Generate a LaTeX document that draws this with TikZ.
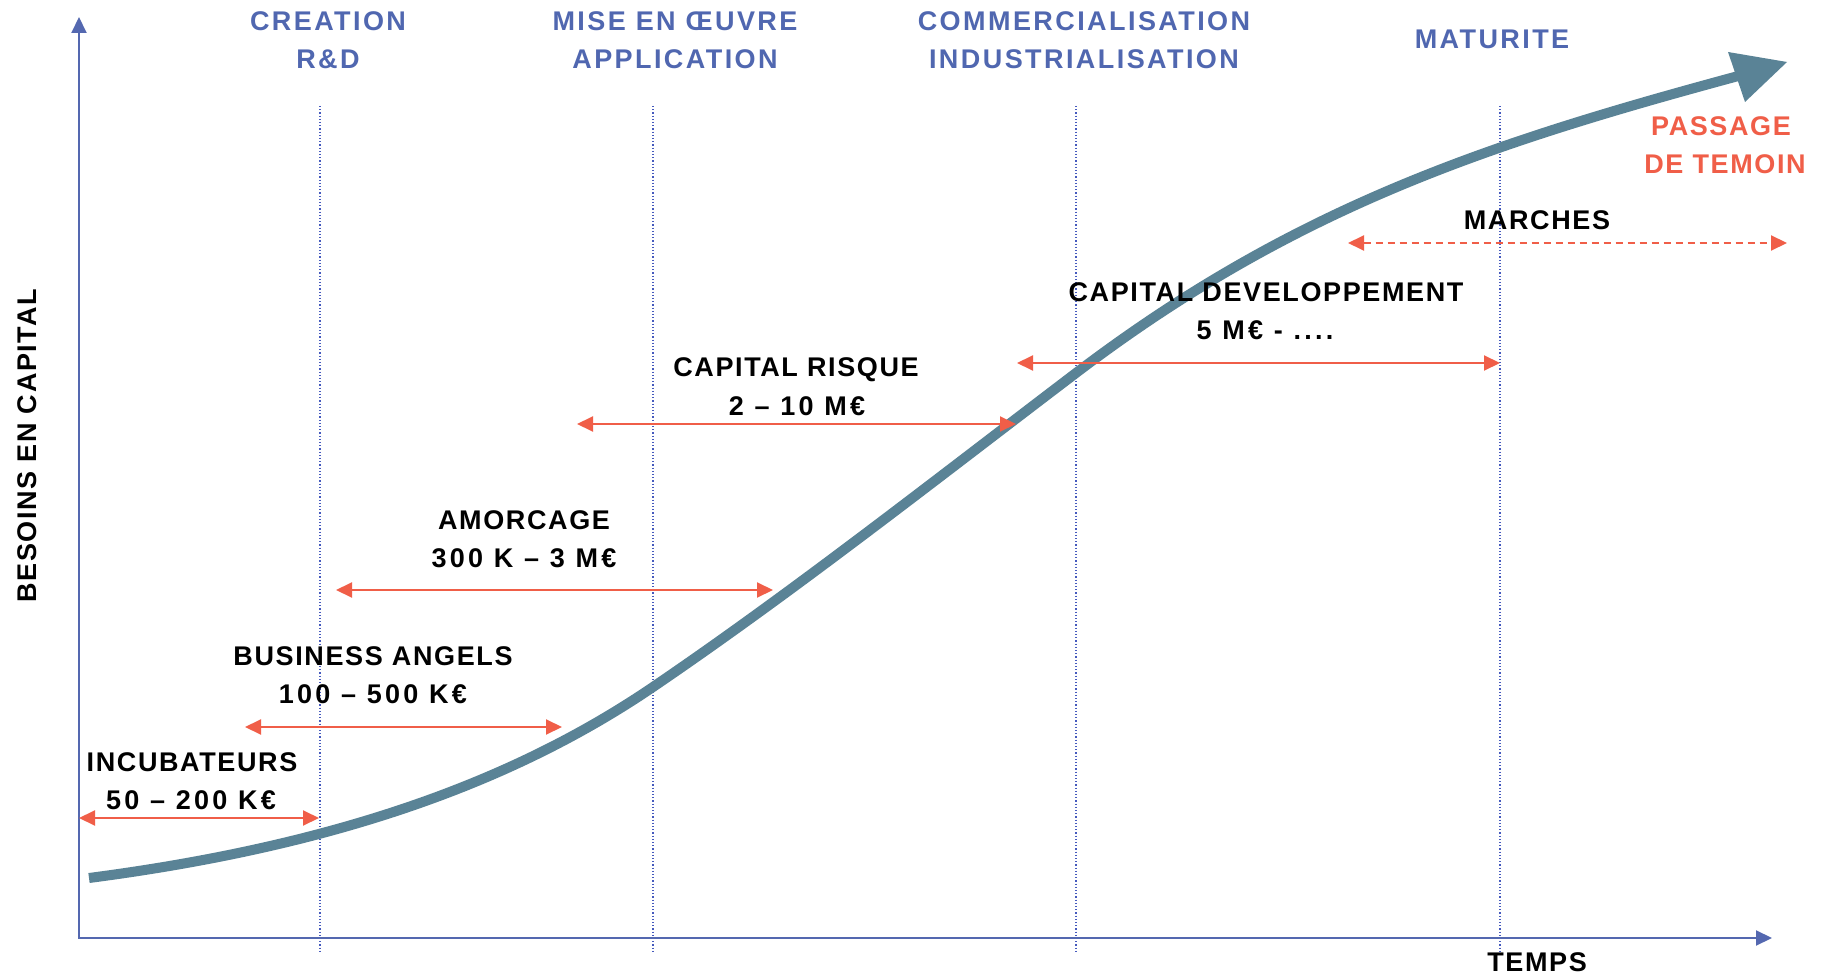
\documentclass[tikz,border=0pt]{standalone}
\usepackage{fontspec}
\setmainfont{Liberation Sans}[LetterSpace=6]
\newfontfamily\headfont{Liberation Sans}[LetterSpace=9]
\newfontfamily\numfont{Liberation Sans}[LetterSpace=12]
\usetikzlibrary{arrows.meta}
\definecolor{hblue}{RGB}{80,103,176}
\definecolor{axblue}{RGB}{84,104,176}
\definecolor{dotblue}{RGB}{70,90,190}
\definecolor{orng}{RGB}{240,94,72}
\definecolor{curveC}{RGB}{90,131,150}
\begin{document}
\begin{tikzpicture}[x=1pt,y=-1pt,
  lbl/.style={anchor=base, inner sep=0pt, font=\fontsize{27}{32}\selectfont\bfseries},
  head/.style={lbl, text=hblue, font=\fontsize{27}{32}\headfont\bfseries},
  pass/.style={lbl, text=orng},
  blk/.style={lbl, text=black},
  num/.style={lbl, text=black, font=\fontsize{27}{32}\numfont\bfseries},
  axisline/.style={draw=axblue, line width=2pt, {Triangle[length=16pt,width=15pt]}-{Triangle[length=16pt,width=15pt]}},
  guide/.style={draw=dotblue, line width=1.2pt, dash pattern=on 1.2pt off 2pt},
  span/.style={draw=orng, line width=2pt, {Triangle[length=16pt,width=15pt]}-{Triangle[length=16pt,width=15pt]}},
  spandash/.style={span, dash pattern=on 7pt off 5pt},
  growth/.style={draw=curveC, line width=10pt},
]
\fill[white] (0,0) rectangle (1829,973);
\useasboundingbox (0,0) rectangle (1829,973);

% guides
\foreach \gx/\gn in {320/g1,653/g2,1076/g3,1500/g4}{
  \coordinate (\gn top) at (\gx,106);
  \coordinate (\gn bot) at (\gx,952);
  \draw[guide] (\gn top) -- (\gn bot);
}

% axes
\coordinate (O) at (79,938);
\coordinate (ytop) at (79,17);
\coordinate (xend) at (1772,938);
\draw[axisline] (ytop) -- (O) -- (xend);

% growth curve
\coordinate (c0) at (89,878);
\coordinate (c1) at (653,687);
\coordinate (c2) at (1076,373);
\coordinate (c3) at (1742,75);
\draw[growth] (c0) .. controls (319,848) and (503,789) .. (c1)
  .. controls (793,591.8) and (936,479.4) .. (c2)
  .. controls (1296,205.8) and (1492,142.5) .. (c3);
\fill[curveC] (1728,52) -- (1787,62) -- (1745,102) -- cycle;

% headers
\node[head] (creation) at (328,31) {CREATION};
\node[head] (rd) at (328,69) {R\&D};
\node[head] (mise) at (675,31) {MISE EN ŒUVRE};
\node[head] (appl) at (675,69) {APPLICATION};
\node[head] (comm) at (1084,31) {COMMERCIALISATION};
\node[head] (indus) at (1084,69) {INDUSTRIALISATION};
\node[head] (matur) at (1492,49) {MATURITE};
\node[pass] (passage) at (1721,136) {PASSAGE};
\node[pass] (temoin) at (1725,174) {DE TEMOIN};

% financing labels
\node[blk] (marches) at (1537,230) {MARCHES};
\node[blk] (capdev) at (1266,302) {CAPITAL DEVELOPPEMENT};
\node[num] (capdevv) at (1265,340) {5 M€ - ....};
\node[blk] (caprisk) at (796,377) {CAPITAL RISQUE};
\node[num] (capriskv) at (797,416) {2 – 10 M€};
\node[blk] (amorc) at (524,529) {AMORCAGE};
\node[num] (amorcv) at (524,567) {300 K – 3 M€};
\node[blk] (ba) at (373,665) {BUSINESS ANGELS};
\node[num] (bav) at (373,703) {100 – 500 K€};
\node[blk] (incub) at (192,771) {INCUBATEURS};
\node[num] (incubv) at (191,809) {50 – 200 K€};
\node[blk, rotate=90] (besoins) at (36,446) {BESOINS EN CAPITAL};
\node[blk] (temps) at (1537,971) {TEMPS};

% spans
\coordinate (incA) at (79,818);   \coordinate (incB) at (319,818);
\coordinate (baA) at (245,727);   \coordinate (baB) at (562,727);
\coordinate (amA) at (336,590);   \coordinate (amB) at (773,590);
\coordinate (crA) at (577,424);   \coordinate (crB) at (1016,424);
\coordinate (cdA) at (1017,363);  \coordinate (cdB) at (1500,363);
\coordinate (mkA) at (1348,243);  \coordinate (mkB) at (1787,243);
\draw[span] (incA) -- (incB);
\draw[span] (baA) -- (baB);
\draw[span] (amA) -- (amB);
\draw[span] (crA) -- (crB);
\draw[span] (cdA) -- (cdB);
\draw[spandash] (mkA) -- (mkB);
\end{tikzpicture}
\end{document}
